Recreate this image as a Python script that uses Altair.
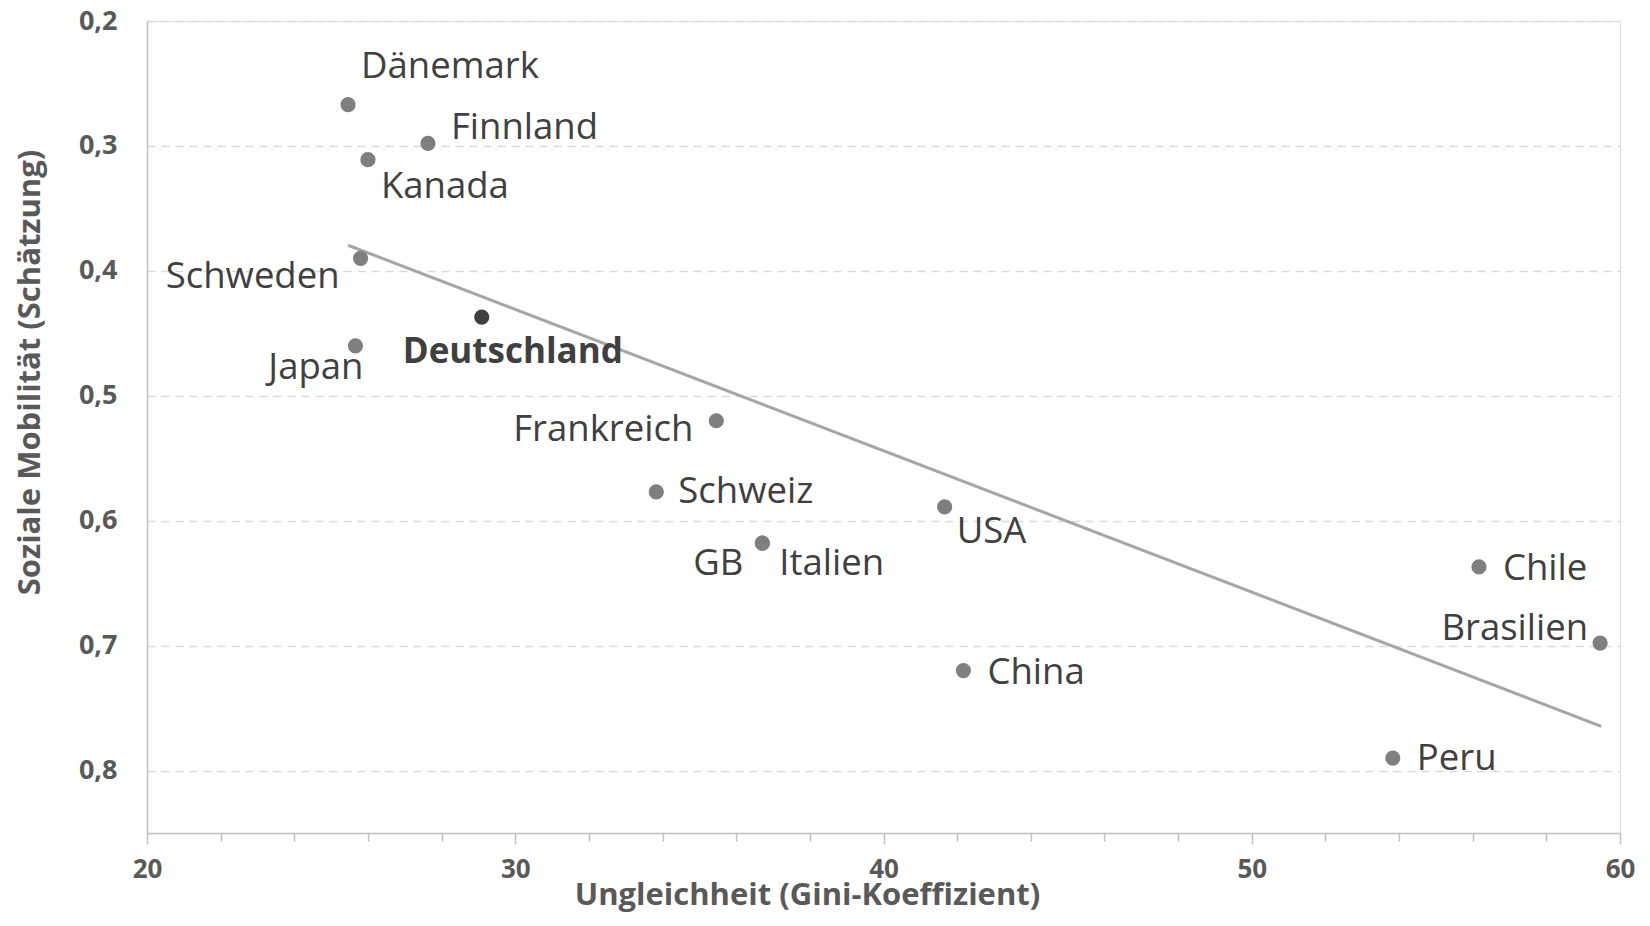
import altair as alt
import pandas as pd

# ---- data ----
countries = ["Dänemark", "Finnland", "Kanada", "Schweden", "Deutschland", "Japan",
             "Frankreich", "Schweiz", "GB", "Italien", "USA", "China", "Chile",
             "Brasilien", "Peru"]
gini = [25.46, 27.63, 26.0, 25.8, 29.09, 25.66, 35.46, 33.83, 36.71, 36.71,
        41.66, 42.17, 56.17, 59.46, 53.83]
mobility = [0.267, 0.298, 0.311, 0.390, 0.437, 0.460, 0.520, 0.577, 0.618, 0.618,
            0.589, 0.720, 0.637, 0.698, 0.790]

trend_x = [25.46, 59.49]
trend_y = [0.3795, 0.7646]

y_ticks = [0.2, 0.3, 0.4, 0.5, 0.6, 0.7, 0.8]
x_ticks = list(range(20, 61, 2))

# ---- label placement (style, not data) ----
label_style = {
    "Dänemark": ("left", 13, -38),
    "Finnland": ("left", 23, -15),
    "Kanada": ("left", 13, 27),
    "Schweden": ("right", -21, 19),
    "Japan": ("right", 8, 22),
    "Deutschland": ("left", -79, 35),
    "Frankreich": ("right", -23, 9),
    "Schweiz": ("left", 22, 0),
    "GB": ("right", -19, 21),
    "Italien": ("left", 17, 21),
    "USA": ("left", 12, 25),
    "China": ("left", 24, 2),
    "Chile": ("left", 24, 2),
    "Brasilien": ("right", -12, -14),
    "Peru": ("left", 24, 1),
}

df = pd.DataFrame({"land": countries, "gini": gini, "mob": mobility})
df["de"] = df["land"] == "Deutschland"
trend = pd.DataFrame({"gini": trend_x, "mob": trend_y})

FONT = "Open Sans"
x_scale = alt.Scale(domain=[20, 60], nice=False, zero=False)
y_scale = alt.Scale(domain=[0.2, 0.85], reverse=True, nice=False, zero=False)

x_enc = alt.X("gini:Q", scale=x_scale, axis=alt.Axis(
    title="Ungleichheit (Gini-Koeffizient)",
    values=x_ticks,
    labelExpr="datum.value % 10 === 0 ? datum.value : ''",
    grid=False,
    tickSize={"condition": {"test": "datum.value % 10 === 0", "value": 11}, "value": 8},
    tickColor="#bfbfbf", tickWidth=1.5,
    domainColor="#bfbfbf", domainWidth=1.5,
    labelFont=FONT, labelFontSize=26, labelFontWeight="bold", labelColor="#595959",
    labelPadding=12, labelFlush=False,
    titleFont=FONT, titleFontSize=31, titleFontWeight="bold", titleColor="#595959",
    titleX=660, titleY=71, titleBaseline="alphabetic", titleAnchor="middle", titleAlign="center",
))
y_enc = alt.Y("mob:Q", scale=y_scale, axis=alt.Axis(
    title="Soziale Mobilität (Schätzung)",
    values=y_ticks,
    labelExpr="replace(format(datum.value, '.1f'), '.', ',')",
    grid=True, gridColor="#d9d9d9", gridDash=[8, 6], gridWidth=1.5,
    ticks=False,
    domainColor="#bfbfbf", domainWidth=1.5,
    labelFont=FONT, labelFontSize=27, labelFontWeight="bold", labelColor="#595959",
    labelPadding=30, labelFlush=False,
    titleFont=FONT, titleFontSize=31, titleFontWeight="bold", titleColor="#595959",
    titleX=-117, titleY=351, titleAngle=-90, titleBaseline="middle", titleAlign="center",
))

base = alt.Chart(df)

line = alt.Chart(trend).mark_line(color="#a6a6a6", strokeWidth=3).encode(x=x_enc, y=y_enc)

points = base.mark_circle(size=230, opacity=1).encode(
    x=x_enc, y=y_enc,
    color=alt.condition("datum.de", alt.value("#404040"), alt.value("#7f7f7f")),
)

layers = [line, points]
for name, (align, dx, dy) in label_style.items():
    bold = name == "Deutschland"
    layers.append(
        base.transform_filter(alt.datum.land == name).mark_text(
            align=align, baseline="middle", dx=dx, dy=dy,
            font=FONT, fontSize=35 if bold else 36.5, color="#404040",
            fontWeight="bold" if bold else "normal",
        ).encode(x=x_enc, y=y_enc, text="land:N")
    )

chart = alt.layer(*layers).properties(
    width=1473, height=812,
    autosize=alt.AutoSizeParams(type="none"),
    padding={"left": 139, "top": 13, "right": 20, "bottom": 80},
).configure_view(stroke=None).configure(background="white")

chart.save("out.html", embed_options={"renderer": "svg", "actions": False})
